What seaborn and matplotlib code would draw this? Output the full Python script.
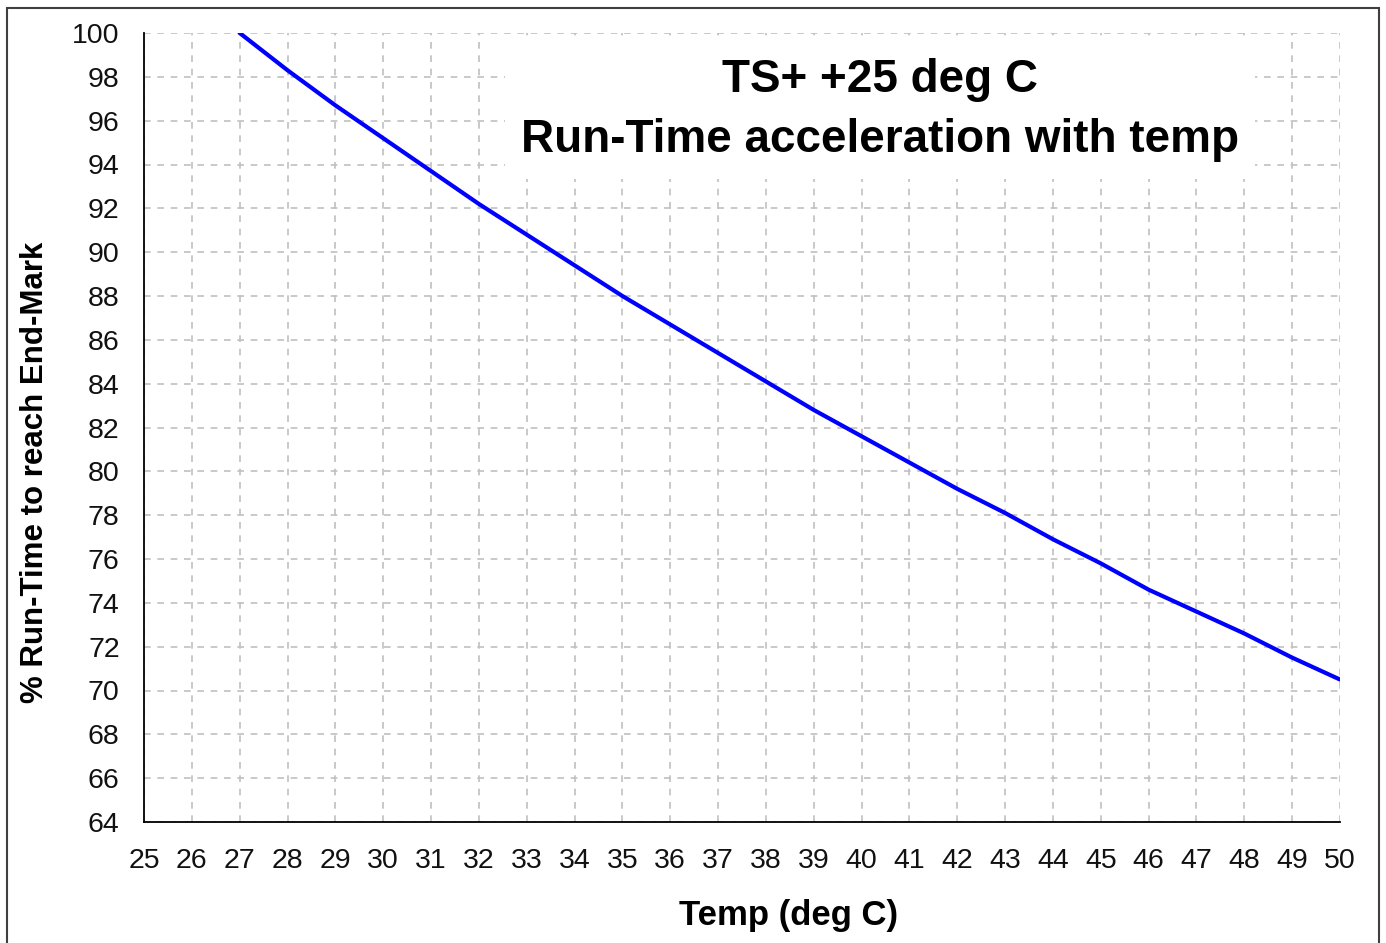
import matplotlib.pyplot as plt
import matplotlib.patches as patches
import numpy as np
import pandas as pd
import seaborn as sns

# Datos
temp = [27, 28, 29, 30, 31, 32, 33, 34, 35, 36, 37, 38, 39, 40, 41, 42, 43, 44, 45, 46, 47, 48, 49, 50]
run_time = [100.0, 98.3, 96.7, 95.2, 93.7, 92.2, 90.8, 89.4, 88.0, 86.7, 85.4, 84.1, 82.8, 81.6, 80.4, 79.2,
            78.1, 76.9, 75.8, 74.6, 73.6, 72.6, 71.5, 70.5]

x_ticks = list(range(25, 51))
y_ticks = list(range(64, 101, 2))

title = "TS+ +25 deg C\nRun-Time acceleration with temp"
x_label = "Temp (deg C)"
y_label = "% Run-Time to reach End-Mark"

df = pd.DataFrame({'temp': temp, 'run_time': run_time})

sns.set_style("white")
plt.rcParams['font.family'] = ['Liberation Sans', 'DejaVu Sans']
plt.rcParams['text.color'] = '#000000'
plt.rcParams['axes.labelcolor'] = '#000000'

fig = plt.figure(figsize=(13.86, 9.43), dpi=100)
ax = fig.add_axes([144/1386, 1 - 822/943, (1340-144)/1386, (822-33)/943])

sns.lineplot(data=df, x='temp', y='run_time', color='#0000ff', linewidth=3, ax=ax, zorder=3)

ax.set_xlim(25, 50)
ax.set_ylim(64, 100)
ax.set_xticks(x_ticks)
ax.set_yticks(y_ticks)
ax.tick_params(axis='both', direction='out', length=6.5, width=1.3, color='#000000',
               labelsize=20.5, labelcolor='#111111')
ax.tick_params(axis='x', pad=12)
ax.tick_params(axis='y', pad=11)

ax.grid(True, color='#c0c0c0', linestyle=(0, (4, 4)), linewidth=1.2)
ax.set_axisbelow(True)
for s in ['top', 'right']:
    ax.spines[s].set_visible(False)
for s in ['left', 'bottom']:
    ax.spines[s].set_color('#000000')
    ax.spines[s].set_linewidth(1.3)

ax.set_xlabel(x_label, fontsize=25, fontweight='bold', va='center')
ax.set_ylabel(y_label, fontsize=22.5, fontweight='bold', va='center')
ax.xaxis.set_label_coords((789-144)/1196, (822-915)/789)
ax.yaxis.set_label_coords((35-144)/1196, (822-472)/789)

ax.text((880-144)/1196, (822-110)/789, title, transform=ax.transAxes, ha='center', va='center',
        fontsize=33, fontweight='bold', linespacing=1.5, zorder=4,
        bbox=dict(boxstyle='square,pad=0.35', facecolor='white', edgecolor='none'))

# marco exterior
fig.patches.append(patches.Rectangle((7/1386, -0.01), (1379-7)/1386, 1.01 - 8/943,
                                     transform=fig.transFigure, fill=False,
                                     edgecolor='#404040', linewidth=1.5))

fig.savefig('out.png', dpi=100)
